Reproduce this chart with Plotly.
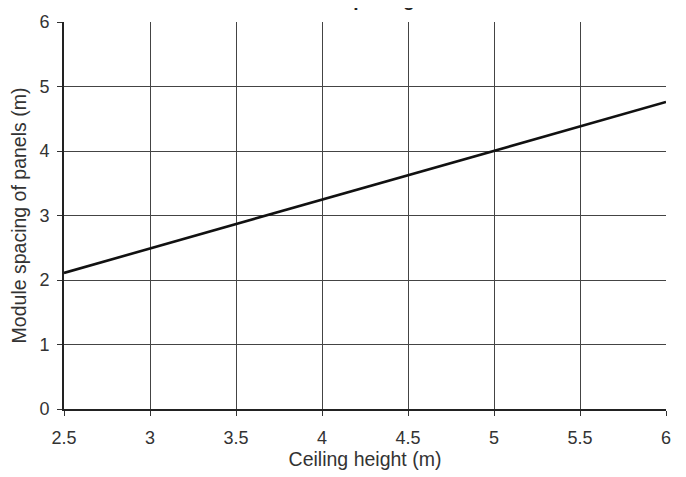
import plotly.graph_objects as go

ceiling_height = [2.5, 3.0, 3.5, 4.0, 4.5, 5.0, 5.5, 6.0]
module_spacing = [2.11, 2.49, 2.87, 3.25, 3.62, 4.0, 4.38, 4.76]
x_ticks = [2.5, 3, 3.5, 4, 4.5, 5, 5.5, 6]
y_ticks = [0, 1, 2, 3, 4, 5, 6]

fig = go.Figure()
fig.add_trace(go.Scatter(x=ceiling_height, y=module_spacing, mode="lines",
                         line=dict(color="#111111", width=2.6), showlegend=False))

tickfont = dict(family="Liberation Sans, Arial", size=18, color="#333333")
titlefont = dict(family="Liberation Sans, Arial", size=19.5, color="#333333")
fig.update_layout(
    width=686, height=477,
    margin=dict(l=56, r=28, t=13.5, b=76, autoexpand=False),
    paper_bgcolor="white", plot_bgcolor="white",
    font=dict(family="Liberation Sans, Arial", color="#333333"),
    xaxis=dict(range=[2.5, 6], tickvals=x_ticks, ticktext=[str(v) for v in x_ticks],
               showgrid=True, gridcolor="#444444", gridwidth=1.4,
               showline=True, linecolor="#222222", linewidth=2, mirror=False,
               ticks="outside", ticklen=5, tickcolor="#333333", tickwidth=1.4, tickfont=tickfont,
               ticklabelstandoff=6, zeroline=False, automargin=False,
               title=dict(text="Ceiling height (m)", font=titlefont, standoff=6)),
    yaxis=dict(range=[0, 6], tickvals=y_ticks,
               showgrid=True, gridcolor="#444444", gridwidth=1.4,
               showline=True, linecolor="#222222", linewidth=2,
               ticks="outside", ticklen=5, tickcolor="#333333", tickwidth=1.4, tickfont=tickfont,
               ticklabelstandoff=4, zeroline=False, automargin=False,
               title=dict(text="Module spacing of panels (m)", font=titlefont, standoff=8)),
)
fig.add_annotation(text="<b>Module spacing</b>", xref="paper", yref="paper",
                   x=(335 - 56) / 602, y=1, yshift=9.5, xanchor="center", yanchor="bottom",
                   showarrow=False, font=dict(family="Liberation Sans, Arial", size=19, color="#222222"))
fig.write_html("out.html")
